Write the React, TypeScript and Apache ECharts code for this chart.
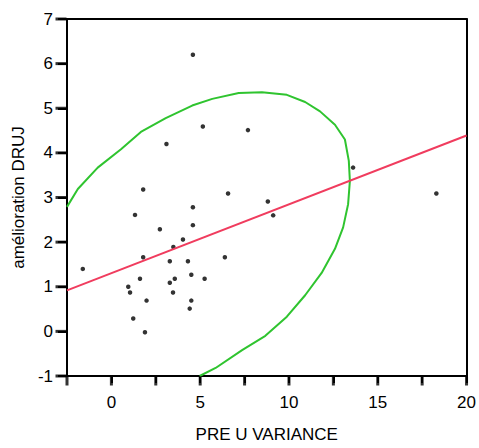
import React, { useEffect, useRef } from "react";
import * as echarts from "echarts";

const pointsX = [
  -1.61, 1.33, 4.59, 4.59, 2.73, 4.03, 3.49, 1.79, 3.29, 4.31, 6.39, 1.61, 3.57, 5.25, 3.29, 4.5, 0.95,
  1.05, 3.47, 1.98, 4.5, 4.41, 1.23, 1.89, 4.59, 5.15, 3.1, 1.79, 6.57, 7.69, 13.61, 8.81, 9.11, 18.3,
];
const pointsY = [
  1.4, 2.61, 2.78, 2.38, 2.29, 2.06, 1.89, 1.66, 1.57, 1.57, 1.66, 1.18, 1.18, 1.18, 1.09, 1.27, 1.0,
  0.87, 0.87, 0.69, 0.69, 0.51, 0.29, -0.02, 6.2, 4.59, 4.2, 3.18, 3.09, 4.51, 3.67, 2.91, 2.6, 3.09,
];

const fitX = [-2.5, 20];
const fitY = [0.92, 4.39];

const ellipseX = [
  -2.5, -1.89, -0.77, 0.54, 1.66, 3.06, 4.55, 5.68, 7.17, 8.48, 9.88, 10.91, 11.75, 12.59, 13.15, 13.37,
  13.43, 13.33, 13.05, 12.59, 11.84, 10.91, 9.88, 8.67, 7.36, 5.87, 4.97,
];
const ellipseY = [
  2.79, 3.19, 3.67, 4.08, 4.47, 4.78, 5.06, 5.21, 5.34, 5.36, 5.3, 5.14, 4.93, 4.63, 4.3, 3.82, 3.37,
  2.85, 2.33, 1.85, 1.31, 0.81, 0.33, -0.1, -0.42, -0.82, -1.0,
];

const xTickValues = [-2.5, 0, 2.5, 5, 7.5, 10, 12.5, 15, 17.5, 20];
const yTickValues = [-1, 0, 1, 2, 3, 4, 5, 6, 7];
const xTickLabels = ["0", "5", "10", "15", "20"];

const X_MIN = -2.5;
const X_MAX = 20;
const Y_MIN = -1;
const Y_MAX = 7;

export default function App() {
  const ref = useRef<HTMLDivElement>(null);
  useEffect(() => {
    if (!ref.current) return;
    const chart = echarts.init(ref.current, null, { renderer: "svg" });
    const font = "'Liberation Sans', Arial, sans-serif";
    const frameAxis = {
      type: "value",
      axisLine: { show: true, onZero: false, lineStyle: { color: "#000", width: 2 } },
      axisTick: { show: false },
      axisLabel: { show: false },
      splitLine: { show: false },
    };
    const xTickData = xTickValues.map((v) => [v, Y_MIN]);
    const yTickData = yTickValues.map((v) => [X_MIN, v]);
    chart.setOption({
      animation: false,
      grid: { left: 67, right: 10, top: 19, bottom: 70 },
      xAxis: [
        {
          type: "value",
          position: "bottom",
          min: X_MIN,
          max: X_MAX,
          interval: 2.5,
          name: "PRE U VARIANCE",
          nameLocation: "middle",
          nameGap: 50,
          nameTextStyle: { color: "#000", fontSize: 17, fontFamily: font },
          axisLine: { show: true, onZero: false, lineStyle: { color: "#000", width: 2 } },
          axisTick: { show: true, length: 7, lineStyle: { color: "#000", width: 2 } },
          splitLine: { show: false },
          axisLabel: {
            show: true,
            color: "#000",
            fontSize: 17,
            fontFamily: font,
            margin: 18,
            showMinLabel: false,
            formatter: (v: number) => {
              const s = String(Math.round(v));
              return Math.abs(v % 5) < 1e-9 && xTickLabels.includes(s) ? s : "";
            },
          },
        },
        { ...frameAxis, position: "top", min: X_MIN, max: X_MAX },
      ],
      yAxis: [
        {
          type: "value",
          position: "left",
          min: Y_MIN,
          max: Y_MAX,
          interval: 1,
          name: "amélioration DRUJ",
          nameLocation: "middle",
          nameGap: 38,
          nameTextStyle: { color: "#000", fontSize: 17, fontFamily: font },
          axisLine: { show: true, onZero: false, lineStyle: { color: "#000", width: 2 } },
          axisTick: { show: true, length: 9, lineStyle: { color: "#000", width: 2 } },
          splitLine: { show: false },
          axisLabel: { show: true, color: "#000", fontSize: 17, fontFamily: font, margin: 14 },
        },
        { ...frameAxis, position: "right", min: Y_MIN, max: Y_MAX },
      ],
      series: [
        {
          type: "line",
          data: ellipseX.map((x, i) => [x, ellipseY[i]]),
          symbol: "none",
          lineStyle: { color: "#2fc42f", width: 2 },
          clip: true,
          silent: true,
        },
        {
          type: "line",
          data: fitX.map((x, i) => [x, fitY[i]]),
          symbol: "none",
          lineStyle: { color: "#f03c5e", width: 2 },
          clip: true,
          silent: true,
        },
        {
          type: "scatter",
          data: pointsX.map((x, i) => [x, pointsY[i]]),
          symbol: "circle",
          symbolSize: 4.5,
          itemStyle: { color: "#000" },
        },
        {
          type: "scatter",
          data: xTickData,
          symbol: "rect",
          symbolSize: [3, 9],
          symbolOffset: [0, 5],
          itemStyle: { color: "#000" },
          clip: false,
          silent: true,
          z: 5,
        },
        {
          type: "scatter",
          data: yTickData,
          symbol: "rect",
          symbolSize: [11, 3],
          symbolOffset: [-6, 0],
          itemStyle: { color: "#000" },
          clip: false,
          silent: true,
          z: 5,
        },
      ],
    });
    return () => chart.dispose();
  }, []);
  return (
    <div
      ref={ref}
      style={{ position: "fixed", left: 0, top: 0, width: 479, height: 448, background: "#fff" }}
    />
  );
}
